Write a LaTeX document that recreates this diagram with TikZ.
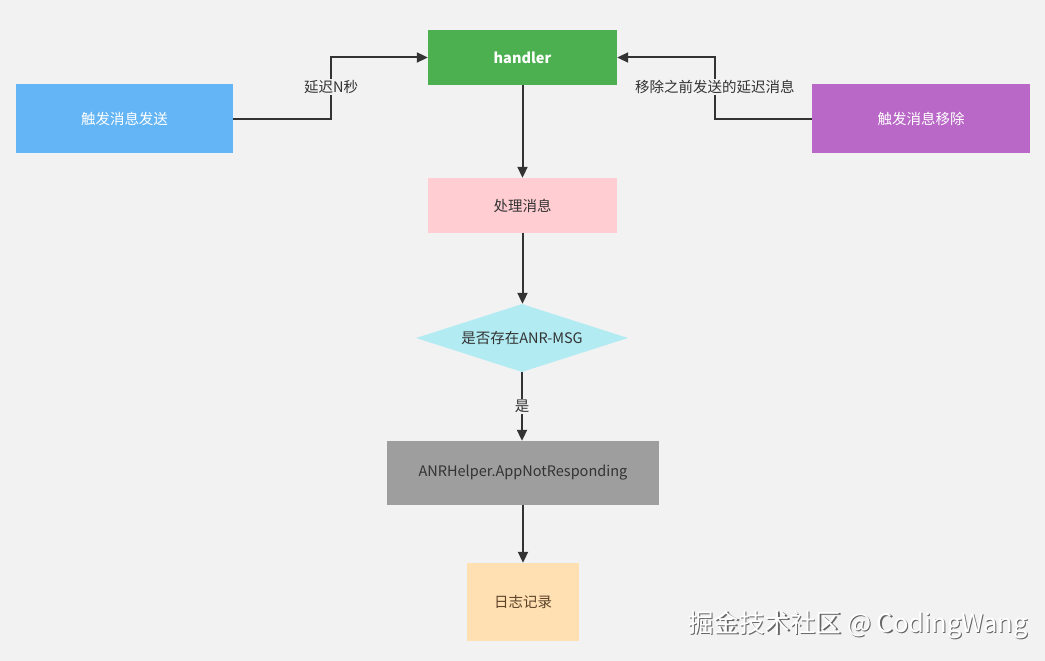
\documentclass[tikz,border=0pt]{standalone}
\usepackage{fontspec}
\setmainfont{Liberation Sans}
\newfontfamily\cjk{Noto Sans CJK SC}
\usetikzlibrary{shapes.geometric,arrows.meta}
\definecolor{bgcol}{HTML}{F2F2F2}
\definecolor{linecol}{HTML}{333333}
\definecolor{greencol}{HTML}{4CAF50}
\definecolor{bluecol}{HTML}{64B5F6}
\definecolor{purplecol}{HTML}{BA68C8}
\definecolor{pinkcol}{HTML}{FFCDD2}
\definecolor{cyancol}{HTML}{B2EBF2}
\definecolor{graycol}{HTML}{9E9E9E}
\definecolor{orangecol}{HTML}{FFE0B2}
\tikzset{box example/.style={
    draw=none, inner sep=0pt, text=linecol,
    font=\cjk\fontsize{14.5}{17}\selectfont,
  },
  flow/.style={draw=linecol, line width=2pt, -{Triangle[length=11pt,width=10pt]}},
  flow label/.style={fill=bgcol, inner sep=1pt, text=linecol,
    font=\cjk\fontsize{14.5}{17}\selectfont},
}

\begin{document}
\begin{tikzpicture}[x=1pt,y=-1pt]
\fill[bgcol] (0,0) rectangle (1045,661);
\useasboundingbox (0,0) rectangle (1045,661);
\node[box example, name=handler, fill=greencol, text=white, minimum width=189pt, minimum height=55pt]
  at (522.5,57.5) {\bfseries handler};
\node[box example, name=send, fill=bluecol, text=white, minimum width=217pt, minimum height=69pt]
  at (124.5,118.5) {触发消息发送};
\node[box example, name=remove, fill=purplecol, text=white, minimum width=218pt, minimum height=69pt]
  at (921,118.5) {触发消息移除};
\node[box example, name=handle, fill=pinkcol, minimum width=189pt, minimum height=55pt]
  at (522.5,205.5) {处理消息};
\node[box example, name=check, shape=diamond, shape aspect=3.1, fill=cyancol,
  minimum width=212pt, minimum height=68pt] at (522,338) {是否存在ANR-MSG};
\node[box example, name=anr, fill=graycol, minimum width=272pt, minimum height=64pt]
  at (523,473) {ANRHelper.AppNotResponding};
\node[box example, name=log, fill=orangecol, text=linecol!80!orange, minimum width=112pt, minimum height=78pt]
  at (523,602) {日志记录};

\draw[flow] (send.east) -- ++(98,0) |- (handler.west)
  node[flow label, pos=0.26] {延迟N秒};
\draw[flow] (remove.west) -- ++(-97,0) |- (handler.east)
  node[flow label, pos=0.26] {移除之前发送的延迟消息};
\foreach \from/\to in {handler/handle, handle/check, anr/log}
  \draw[flow] (\from.south) -- (\from.south |- \to.north);
\draw[flow] (check.south) -- (check.south |- anr.north)
  node[flow label, midway] {是};

% watermark
\node[name=wmshadow, text=black!60, font=\cjk\fontsize{25.5}{30}\selectfont] at (859.2,626.2) {掘金技术社区 @ CodingWang};
\node[name=wm, text=white, font=\cjk\fontsize{25.5}{30}\selectfont] at (858,625) {掘金技术社区 @ CodingWang};
\end{tikzpicture}
\end{document}
